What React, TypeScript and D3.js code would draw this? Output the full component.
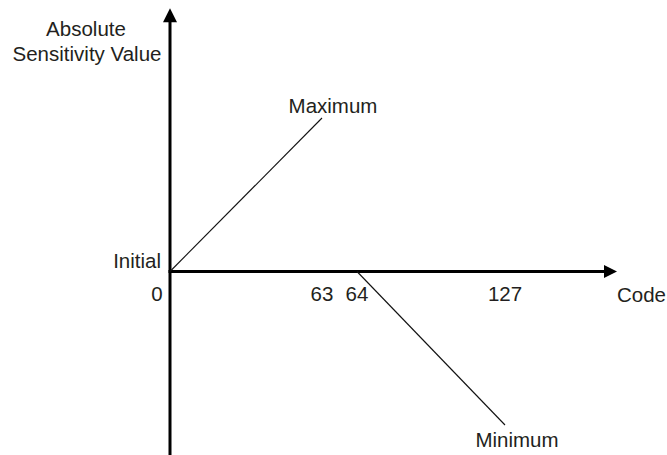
import React from 'react';
import * as d3 from 'd3';

// schematic: code (x) vs absolute sensitivity value (y)
const tickCodes = [0, 63, 64, 127];
const tickLabels = ['0', '63', '64', '127'];
const maximumLine = [
  { code: 0, value: 0 },
  { code: 63, value: 1 },
];
const minimumLine = [
  { code: 64, value: 0 },
  { code: 127, value: -1 },
];
const yAxisTitle = ['Absolute', 'Sensitivity Value'];
const xAxisTitle = 'Code';
const initialLabel = 'Initial';

const width = 667;
const height = 455;
const textColor = '#231f20';
const font = '"Liberation Sans", Arial, sans-serif';

const App = () => {
  // the diagram is not to scale, so the x scale is piecewise
  const x = d3.scaleLinear().domain(tickCodes).range([170, 322, 357, 505]);
  const y = d3.scaleLinear().domain([-1, 1]).range([425, 118]);

  const line = d3
    .line<{ code: number; value: number }>()
    .x(d => x(d.code))
    .y(d => y(d.value));

  const x0 = x(0);
  const y0 = y(0);
  const xEnd = x(127) + 112;
  const yTop = y(1.715);
  const yBottom = height;

  return (
    <svg
      width={width}
      height={height}
      style={{ position: 'absolute', left: 0, top: 0, background: '#fff' }}
      fontFamily={font}
      fontSize={20.5}
      fill={textColor}
    >
      {/* y axis */}
      <line x1={x0} x2={x0} y1={yBottom} y2={yTop + 12} stroke="#000" strokeWidth={3} />
      <path d={`M${x0},${yTop} L${x0 - 7},${yTop + 14} L${x0 + 7},${yTop + 14} Z`} fill="#000" />

      {/* x axis */}
      <line x1={x0 - 1.5} x2={xEnd - 12} y1={y0} y2={y0} stroke="#000" strokeWidth={3} />
      <path d={`M${xEnd},${y0} L${xEnd - 13},${y0 - 6.5} L${xEnd - 13},${y0 + 6.5} Z`} fill="#000" />

      {/* lines */}
      <path d={line(maximumLine) || ''} stroke="#111" strokeWidth={1.1} fill="none" />
      <path d={line(minimumLine) || ''} stroke="#111" strokeWidth={1.1} fill="none" />

      {/* tick labels */}
      {tickCodes.map((c, i) => (
        <text
          key={c}
          x={i === 0 ? x(c) - 13 : x(c)}
          y={y0 + 29}
          textAnchor="middle"
        >
          {tickLabels[i]}
        </text>
      ))}

      <text x={xEnd} y={y0 + 30} textAnchor="start">{xAxisTitle}</text>
      <text x={x0 - 9} y={y0 - 4} textAnchor="end">{initialLabel}</text>

      <text x={86} y={36} textAnchor="middle">{yAxisTitle[0]}</text>
      <text x={87} y={61} textAnchor="middle">{yAxisTitle[1]}</text>

      <text x={x(63) + 11} y={y(1) - 5} textAnchor="middle">Maximum</text>
      <text x={x(127) + 12} y={y(-1) + 22} textAnchor="middle">Minimum</text>
    </svg>
  );
};

export default App;
